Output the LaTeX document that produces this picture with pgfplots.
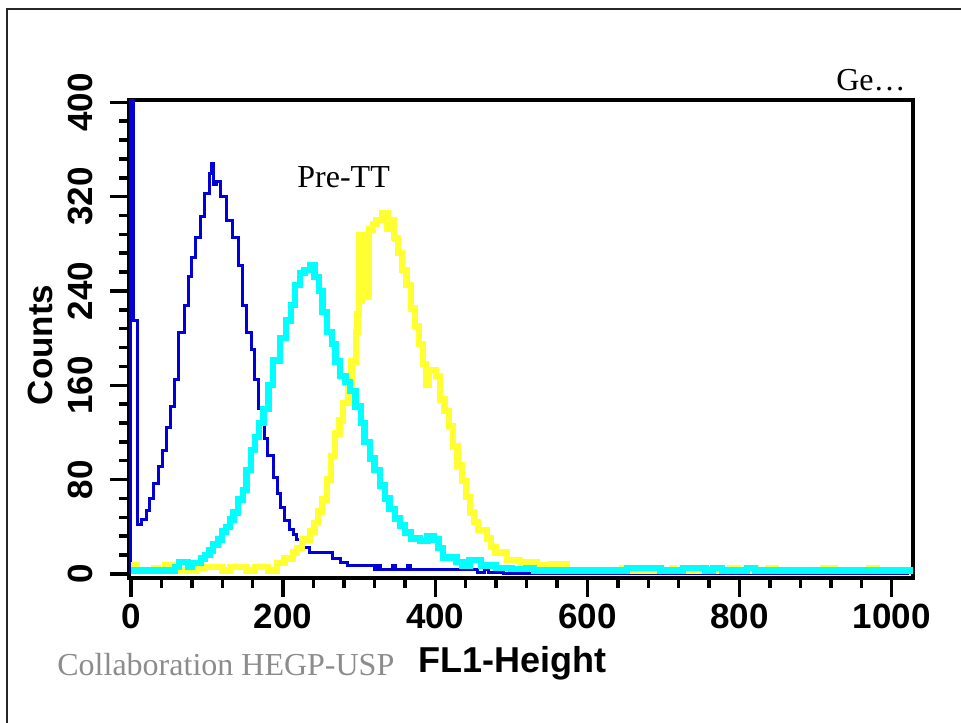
\documentclass[border=0pt]{standalone}
\usepackage{pgfplots}
\usepackage{fontspec}
\setmainfont{Liberation Serif}
\setsansfont{Liberation Sans}
\pgfplotsset{compat=1.18}
\definecolor{histblue}{RGB}{0,0,215}
\definecolor{histcyan}{RGB}{0,255,255}
\definecolor{histyellow}{RGB}{255,255,50}
\definecolor{credgray}{RGB}{140,140,140}

\begin{document}
\begin{tikzpicture}
\useasboundingbox (0,0) rectangle (480.5pt,361pt);
% frame of the page
\draw[line width=1pt, black!85] (3.5pt,-2pt) -- (3.5pt,356.5pt) -- (483pt,356.5pt);

\begin{axis}[
    at={(64.5pt,72pt)}, anchor=south west,
    width=392pt, height=239pt, scale only axis,
    xmin=-2.6, xmax=1028, ymin=-3.5, ymax=402,
    axis line style={line width=2pt},
    xtick={0,200,...,1000}, ytick={0,80,...,400},
    minor x tick num=4, minor y tick num=4,
    xtick pos=bottom, ytick pos=left,
    tick align=outside,
    major tick length=9.5pt, minor tick length=5pt,
    tick style={line width=1.75pt, black},
    /pgf/number format/assume math mode=true,
    /pgf/number format/1000 sep={},
    ticklabel style={font=\sffamily\bfseries\fontsize{17.5}{18}\selectfont},
    yticklabel style={xshift=-5pt, rotate=90, anchor=south},
    const plot,
]
\addplot[histblue, line width=1.5pt] coordinates {
 (0,0) (0,1000) (3,215) (8,42) (14,46) (20,54) (25,64) (30,77) (36,91) (42,105)
 (47,124) (52,142) (57,165) (63,205) (70,228) (75,252) (80,268) (85,285) (91,303)
 (97,323) (103,340) (106,348) (109,330) (113,333) (118,320) (125,300) (134,285)
 (141,262) (147,228) (152,205) (158,190) (163,165) (168,140) (175,115) (180,100)
 (187,82) (192,68) (197,56) (202,45) (208,38) (213,33) (218,29) (225,22) (235,18)
 (250,18) (265,13) (275,10) (285,7) (320,4) (324,7) (328,4) (340,4) (344,7) (348,4)
 (360,4) (364,7) (368,4) (455,1) (465,4) (470,1) (490,0) (875,0) (877,4) (882,0) (1023,0)
};
\addplot[histyellow, line width=3.2pt] coordinates {
 (0,7) (7,3) (28,3) (30,5) (35,3) (45,7) (54,3) (85,5) (97,6) (120,3) (130,6) (152,3)
 (163,6) (180,3) (192,9) (202,13) (213,18) (218,22) (225,29) (235,36) (241,43) (246,53)
 (251,63) (258,80) (263,100) (268,119) (274,130) (279,145) (285,160) (290,180) (296,205)
 (298,220) (300,287) (302,232) (304,287) (306,240) (308,285) (310,235) (312,262)
 (313,292) (318,297) (323,300) (326,300) (330,306) (337,293) (341,300) (346,285)
 (351,272) (356,258) (362,245) (368,225) (373,210) (379,195) (384,178) (388,160)
 (391,173) (401,168) (406,148) (412,138) (418,125) (423,108) (429,92) (435,79) (440,65)
 (446,52) (451,44) (456,37) (468,30) (473,23) (479,18) (494,12) (511,10) (534,7) (551,8)
 (573,3) (646,5) (648,3) (660,5) (662,3) (712,5) (714,3) (788,5) (798,3) (818,5) (821,3)
 (838,5) (847,3) (910,5) (925,3) (970,5) (981,3) (1024,3)
};
\addplot[histcyan, line width=3.2pt] coordinates {
 (0,3) (58,6) (63,10) (75,6) (80,9) (92,13) (97,16) (103,20) (108,25) (114,29) (120,36)
 (125,40) (130,46) (135,52) (141,63) (147,71) (152,88) (158,105) (163,116) (168,128)
 (174,140) (181,160) (187,181) (196,200) (204,215) (210,228) (216,245) (222,255)
 (228,258) (236,262) (241,252) (247,240) (252,222) (258,205) (264,195) (269,180)
 (275,168) (282,163) (288,155) (295,142) (302,128) (307,112) (314,98) (320,88) (327,75)
 (334,64) (340,55) (347,47) (354,41) (360,35) (368,30) (380,28) (390,32) (398,29)
 (404,22) (410,14) (428,10) (436,7) (445,12) (460,7) (480,5) (500,4) (520,5) (530,3)
 (650,3) (652,5) (696,3) (726,5) (755,3) (765,5) (777,3) (810,5) (820,3) (1028,2)
};
\end{axis}

\node[anchor=center, rotate=90, font=\sffamily\bfseries\fontsize{17.5}{18}\selectfont]
  at (20pt,188.5pt) {Counts};
\node[anchor=center, font=\sffamily\bfseries\fontsize{18}{20}\selectfont]
  at (256pt,29.5pt) {FL1-Height};
\node[anchor=base west, inner sep=0pt, text=credgray, font=\fontsize{16}{18}\selectfont]
  at (28.5pt,23.5pt) {Collaboration HEGP-USP};
\node[anchor=base west, inner sep=0pt, font=\fontsize{16}{18}\selectfont]
  at (148.5pt,267pt) {Pre-TT};
\node[anchor=base east, inner sep=0pt, font=\fontsize{16}{18}\selectfont]
  at (453pt,315.5pt) {Ge…};
\end{tikzpicture}
\end{document}
